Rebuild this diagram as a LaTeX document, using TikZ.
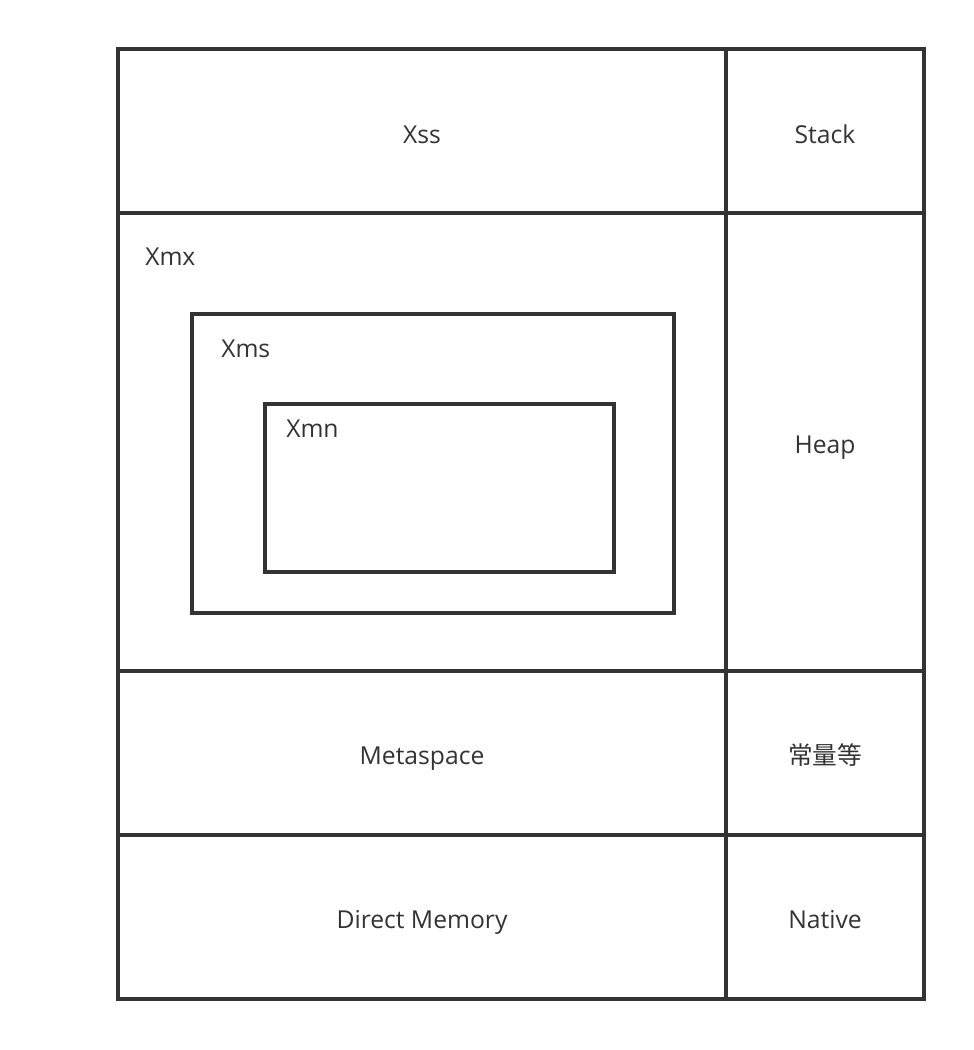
\documentclass[tikz,border=0pt]{standalone}
\usepackage{fontspec}
\setmainfont{Open Sans}
\newfontfamily\cjk{Noto Sans CJK SC}
\definecolor{linegray}{HTML}{333333}

\tikzset{
  cell/.style={draw=linegray, line width=3pt},
  lbl/.style={text=linegray, font=\fontsize{18.5}{22}\selectfont, inner sep=0pt,
    text height=13.2pt, text depth=0pt}
}

\begin{document}
\begin{tikzpicture}[x=0.75pt, y=-0.75pt]
    \useasboundingbox (0,0) rectangle (974,1050);

    % Regions
    \draw[cell] (118,49) rectangle (924,999);
    \draw[cell] (726,49) -- (726,999);
    \draw[cell] (118,213) -- (924,213);
    \draw[cell] (118,671) -- (924,671);
    \draw[cell] (118,835) -- (924,835);
    \draw[cell] (192,314) rectangle (674,613);
    \draw[cell] (265,404) rectangle (614,572);

    % Labels
    \node[lbl] (xss) at (422,135) {Xss};
    \node[lbl] (stack) at (825,135) {Stack};
    \node[lbl, anchor=west] (xmx) at (145,257) {Xmx};
    \node[lbl, anchor=west] (xms) at (221,349) {Xms};
    \node[lbl, anchor=west] (xmn) at (286,429) {Xmn};
    \node[lbl] (heap) at (825,445) {Heap};
    \node[lbl] (meta) at (422,756) {Metaspace};
    \node[lbl] (const) at (825,756) {\cjk 常量等};
    \node[lbl] (direct) at (422,920) {Direct Memory};
    \node[lbl] (native) at (825,920) {Native};
\end{tikzpicture}
\end{document}
